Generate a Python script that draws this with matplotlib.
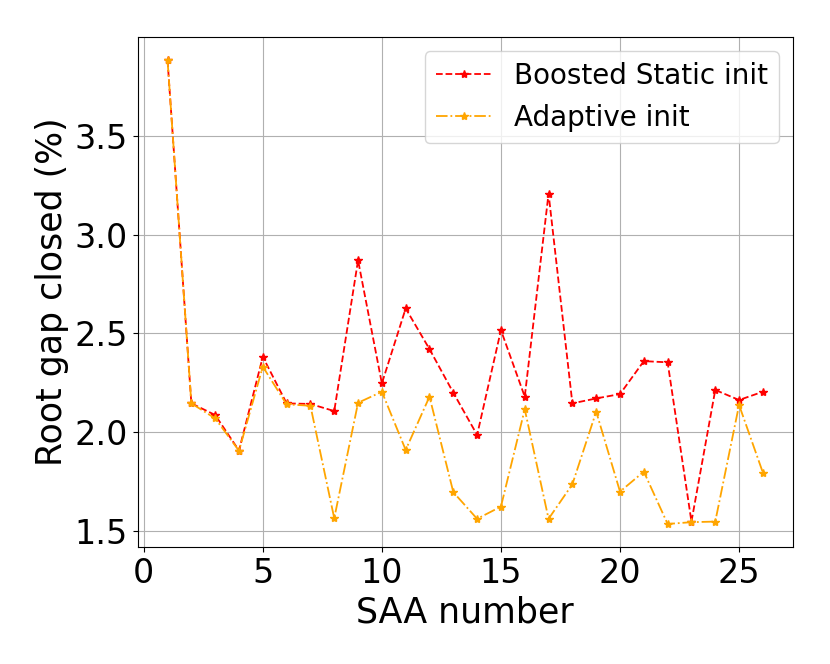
import matplotlib
matplotlib.use("Agg")
import matplotlib.pyplot as plt

saa = list(range(1, 27))
static_init = [3.883, 2.145, 2.086, 1.906, 2.381, 2.145, 2.142, 2.106, 2.870, 2.246,
               2.626, 2.420, 2.199, 1.985, 2.516, 2.179, 3.208, 2.145, 2.170, 2.192,
               2.359, 2.353, 1.546, 2.213, 2.162, 2.204]
adaptive_init = [3.883, 2.145, 2.069, 1.905, 2.331, 2.140, 2.133, 1.563, 2.148, 2.204,
                 1.909, 2.179, 1.695, 1.560, 1.622, 2.115, 1.560, 1.735, 2.103, 1.698,
                 1.799, 1.534, 1.543, 1.546, 2.137, 1.794]

fig, ax = plt.subplots(figsize=(8.3, 6.64), dpi=100)
fig.subplots_adjust(left=0.166, right=0.955, top=0.944, bottom=0.176)
ax.plot(saa, static_init, linestyle='--', marker='*', color='red', markersize=6,
        linewidth=1.3, label='Boosted Static init')
ax.plot(saa, adaptive_init, linestyle='-.', marker='*', color='orange', markersize=6,
        linewidth=1.3, label='Adaptive init')
ax.grid(True)
ax.set_xticks([0, 5, 10, 15, 20, 25])
ax.set_yticks([1.5, 2.0, 2.5, 3.0, 3.5])
ax.tick_params(labelsize=24)
ax.set_xlabel('SAA number', fontsize=25)
ax.set_ylabel('Root gap closed (%)', fontsize=25)
ax.legend(loc='upper right', fontsize=20)
fig.savefig('out.png', dpi=100)
